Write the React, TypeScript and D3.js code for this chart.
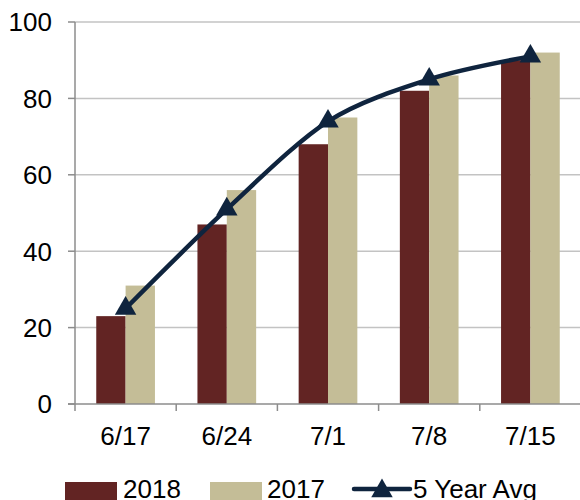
import React from 'react';
import * as d3 from 'd3';

const categories = ['6/17', '6/24', '7/1', '7/8', '7/15'];
const values2018 = [23, 47, 68, 82, 90];
const values2017 = [31, 56, 75, 86, 92];
const avg5yr = [25, 51, 74, 85, 91];
const yTicks = [0, 20, 40, 60, 80, 100];

const W = 580;
const H = 500;
const margin = { top: 22, right: -1, bottom: 96, left: 75 };
const font = 'Arial, "Liberation Sans", sans-serif';

const c2018 = '#622423';
const c2017 = '#C4BD97';
const cAvg = '#0F243E';

const App = () => {
  const x = d3
    .scaleBand()
    .domain(categories)
    .range([margin.left, W - margin.right])
    .paddingInner(0)
    .paddingOuter(0);

  const y = d3.scaleLinear().domain([0, 100]).range([H - margin.bottom, margin.top]);

  const bw = x.bandwidth();
  const barW = bw * 0.29;
  const groupOffset = (bw - barW * 2) / 2;

  // smoothed line like the spreadsheet's
  const line = d3
    .line<number>()
    .x((_, i) => x(categories[i])! + bw / 2)
    .y((d) => y(d))
    .curve(d3.curveCardinal.tension(0.1));

  const tri = d3.symbol().type(d3.symbolTriangle).size(200)();

  const y0 = y(0);

  return (
    <svg width={W} height={H} style={{ position: 'absolute', left: 0, top: 0, background: '#fff' }}>
      {/* grid + y axis labels */}
      {yTicks.map((t) => (
        <g key={t}>
          {t > 0 && (
            <line x1={margin.left} x2={W} y1={y(t)} y2={y(t)} stroke="#C3C3C3" strokeWidth={1.5} />
          )}
          <line x1={margin.left - 7} x2={margin.left} y1={y(t)} y2={y(t)} stroke="#8C8C8C" strokeWidth={1.5} />
          <text x={52} y={y(t)} dy="0.36em" textAnchor="end" fontFamily={font} fontSize={26} fill="#000">
            {t}
          </text>
        </g>
      ))}

      {/* bars */}
      {categories.map((c, i) => (
        <g key={c}>
          <rect x={x(c)! + groupOffset} y={y(values2018[i])} width={barW} height={y0 - y(values2018[i])} fill={c2018} />
          <rect x={x(c)! + groupOffset + barW} y={y(values2017[i])} width={barW} height={y0 - y(values2017[i])} fill={c2017} />
        </g>
      ))}

      {/* axes */}
      <line x1={margin.left} x2={margin.left} y1={margin.top} y2={y0 + 7} stroke="#8C8C8C" strokeWidth={1.5} />
      <line x1={margin.left - 7} x2={W} y1={y0} y2={y0} stroke="#8C8C8C" strokeWidth={1.5} />
      {categories.map((c) => (
        <line key={c} x1={x(c)! + bw} x2={x(c)! + bw} y1={y0} y2={y0 + 7} stroke="#8C8C8C" strokeWidth={1.5} />
      ))}
      {categories.map((c) => (
        <text key={c} x={x(c)! + bw / 2} y={445} textAnchor="middle" fontFamily={font} fontSize={26} fill="#000">
          {c}
        </text>
      ))}

      {/* 5 year avg */}
      <path d={line(avg5yr) ?? ''} fill="none" stroke={cAvg} strokeWidth={4.5} />
      {avg5yr.map((v, i) => (
        <path key={i} d={tri ?? ''} transform={`translate(${x(categories[i])! + bw / 2},${y(v)})`} fill={cAvg} />
      ))}

      {/* legend */}
      <rect x={65} y={482} width={52} height={20} fill={c2018} />
      <text x={123} y={498} fontFamily={font} fontSize={26} fill="#000">2018</text>
      <rect x={210} y={482} width={52} height={20} fill={c2017} />
      <text x={267} y={498} fontFamily={font} fontSize={26} fill="#000">2017</text>
      <line x1={354} x2={410} y1={489} y2={489} stroke={cAvg} strokeWidth={4.5} strokeLinecap="round" />
      <path d={tri ?? ''} transform={`translate(382,491)`} fill={cAvg} />
      <text x={413} y={498} fontFamily={font} fontSize={26} fill="#000">5 Year Avg</text>
    </svg>
  );
};

export default App;
